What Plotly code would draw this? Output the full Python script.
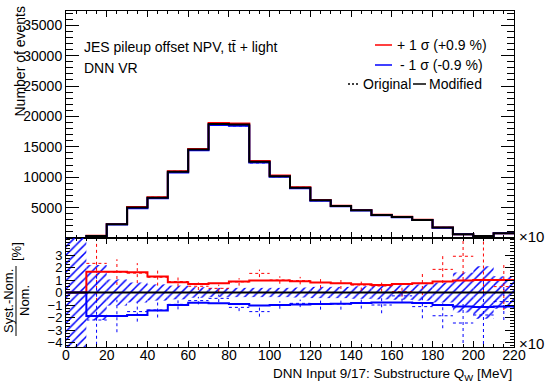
import plotly.graph_objects as go

# ---- binning (DNN input 9/17: substructure Q_W, MeV) ----
bin_edges = list(range(0, 230, 10))

# nominal event yields per bin
nominal = [0, 344, 2260, 5000, 6640, 10900, 14560, 18770, 18660, 12540, 10180,
           8280, 6200, 5260, 4560, 3790, 3460, 2970, 1720, 620, 345, 790]

# relative shifts in % : smoothed ("Modified") variations
up_mod = [0, 1.66, 1.66, 1.61, 1.27, 0.81, 0.68, 0.73, 0.87, 0.95, 0.95,
          0.90, 0.79, 0.73, 0.65, 0.60, 0.68, 0.73, 0.87, 0.95, 1.00, 1.00]
dn_mod = [0, -1.88, -1.88, -1.80, -1.45, -1.00, -0.81, -0.87, -0.92, -1.05, -1.00,
          -0.97, -0.92, -0.90, -0.84, -0.80, -0.80, -0.85, -1.00, -1.13, -1.17, -1.13]

# relative shifts in % : raw ("Original") variations and their errors
up_orig = [None, 2.33, 1.63, 1.55, 1.22, 0.88, 0.50, 0.33, 0.85, 1.53, 1.00,
           0.95, 0.80, 0.73, 0.60, 0.52, 0.06, 0.73, 1.85, 2.90, 4.50, 0.47]
up_orig_err = [0, 3.0, 1.03, 0.80, 0.67, 0.40, 0.30, 0.30, 0.30, 0.30, 0.30,
               0.30, 0.45, 0.45, 0.45, 0.45, 0.40, 0.93, 1.10, 1.90, 4.50, 1.87]
dn_orig = [None, -2.20, -1.88, -1.53, -1.40, -0.95, -0.65, -0.47, -1.19, -1.53, -1.00,
           -0.87, -0.92, -0.92, -0.84, -1.00, -0.27, -1.13, -1.86, -2.44, -1.80, -0.73]
dn_orig_err = [0, 3.9, 1.30, 0.80, 0.60, 0.40, 0.30, 0.30, 0.30, 0.40, 0.30,
               0.30, 0.45, 0.45, 0.45, 0.66, 0.47, 0.93, 1.00, 1.60, 2.80, 1.47]

# statistical uncertainty of the nominal, in %
stat_err = [20, 2.2, 1.05, 0.80, 0.65, 0.55, 0.42, 0.37, 0.37, 0.37, 0.37,
            0.40, 0.45, 0.45, 0.50, 0.55, 0.58, 0.65, 0.80, 1.60, 2.10, 1.30]

y_top_ticks = [0, 5000, 10000, 15000, 20000, 25000, 30000, 35000]
y_top_text = ["", "5000", "10000", "15000", "20000", "25000", "30000", "35000"]
y_rat_ticks = [-4, -3, -2, -1, 0, 1, 2, 3]
y_rat_text = ["\u22124", "\u22123", "\u22122", "\u22121", "0", "1", "2", "3"]
x_ticks = list(range(0, 240, 20))

RED = "#ff0000"
BLUE = "#0000ff"
FONT = "Liberation Sans, Arial, sans-serif"

# canvas geometry (pixels)
W, H = 548, 382
L, R, T, B = 66, 34, 11, 35
split_px = 238
plot_h = H - T - B
split = (H - B - split_px) / plot_h


def px(x):
    return (x - L) / (W - L - R)


def py(y):
    return (H - B - y) / plot_h


def steps(vals):
    return bin_edges, list(vals) + [vals[-1]]


def scaled(pct):
    return [n * (1 + p / 100.0) for n, p in zip(nominal, pct)]


def err_marks(vals, errs):
    xs, ys = [], []
    for i, v in enumerate(vals):
        if v is None:
            continue
        lo, hi = bin_edges[i], bin_edges[i + 1]
        c = 0.5 * (lo + hi)
        xs += [lo, hi, None, c, c, None]
        ys += [v, v, None, v - errs[i], v + errs[i], None]
    return xs, ys


fig = go.Figure()

# ---- upper pad: distributions ----
for pct, col in ((up_orig, RED), (dn_orig, BLUE)):
    vals = scaled([p if p is not None else 0 for p in pct])
    sx, sy = steps(vals)
    fig.add_trace(go.Scatter(x=sx, y=sy, mode="lines", line_shape="hv",
                             line=dict(color=col, width=1, dash="3px,3px"),
                             xaxis="x", yaxis="y", showlegend=False))
for pct, col in ((up_mod, RED), (dn_mod, BLUE)):
    sx, sy = steps(scaled(pct))
    fig.add_trace(go.Scatter(x=sx, y=sy, mode="lines", line_shape="hv",
                             line=dict(color=col, width=2),
                             xaxis="x", yaxis="y", showlegend=False))
sx, sy = steps(nominal)
fig.add_trace(go.Scatter(x=sx, y=sy, mode="lines", line_shape="hv",
                         line=dict(color="black", width=2),
                         xaxis="x", yaxis="y", showlegend=False))

# ---- lower pad: relative differences ----
centers = [0.5 * (bin_edges[i] + bin_edges[i + 1]) for i in range(len(nominal))]
fig.add_trace(go.Bar(x=centers, y=[2 * e for e in stat_err],
                     base=[-e for e in stat_err], width=10,
                     marker=dict(color=BLUE, line=dict(width=0),
                                 pattern=dict(shape="/", fgcolor=BLUE,
                                              bgcolor="rgba(0,0,0,0)",
                                              size=6, solidity=0.25,
                                              fillmode="replace")),
                     xaxis="x2", yaxis="y2", showlegend=False))

for vals, errs, col in ((up_orig, up_orig_err, RED), (dn_orig, dn_orig_err, BLUE)):
    ex, ey = err_marks(vals, errs)
    fig.add_trace(go.Scatter(x=ex, y=ey, mode="lines",
                             line=dict(color=col, width=1, dash="3px,3px"),
                             connectgaps=False,
                             xaxis="x2", yaxis="y2", showlegend=False))
for pct, col in ((up_mod, RED), (dn_mod, BLUE)):
    sx, sy = steps(pct)
    fig.add_trace(go.Scatter(x=sx, y=sy, mode="lines", line_shape="hv",
                             line=dict(color=col, width=2),
                             xaxis="x2", yaxis="y2", showlegend=False))

axis_common = dict(showline=True, linecolor="black", linewidth=1, mirror="ticks",
                   ticks="inside", tickcolor="black", showgrid=False,
                   zeroline=False)
tick_font = dict(family=FONT, size=14, color="black")

fig.update_layout(
    width=W, height=H,
    margin=dict(l=L, r=R, t=T, b=B, pad=0),
    plot_bgcolor="white", paper_bgcolor="white",
    barmode="overlay",
    xaxis=dict(domain=[0, 1], anchor="y", range=[0, 220], matches="x2",
               tickvals=x_ticks, showticklabels=False, ticklen=6, tickfont=tick_font,
               minor=dict(dtick=5, tick0=0, ticklen=3, ticks="inside", tickcolor="black"),
               **axis_common),
    yaxis=dict(domain=[split, 1], anchor="x", range=[0, 37350],
               tickvals=y_top_ticks, ticktext=y_top_text, ticklen=13, tickfont=tick_font,
               minor=dict(dtick=1000, tick0=0, ticklen=7, ticks="inside", tickcolor="black"),
               **axis_common),
    xaxis2=dict(domain=[0, 1], anchor="y2", range=[0, 220],
                tickvals=x_ticks, ticklen=6, ticklabelstandoff=-5, tickfont=tick_font,
                minor=dict(dtick=5, tick0=0, ticklen=3, ticks="inside", tickcolor="black"),
                **axis_common),
    yaxis2=dict(domain=[0, split], anchor="x2", range=[-4.36, 4.36],
                tickvals=y_rat_ticks, ticktext=y_rat_text, ticklen=9,
                tickfont=dict(family=FONT, size=13, color="black"),
                minor=dict(dtick=0.25, tick0=0, ticklen=4, ticks="inside", tickcolor="black"),
                **axis_common),
)

shapes = [
    # reference line at zero in the ratio pad
    dict(type="line", xref="paper", yref="y2", x0=0, x1=1, y0=0, y1=0,
         line=dict(color="black", width=2), layer="above"),
    # legend keys
    dict(type="line", xref="paper", yref="paper", x0=px(375), x1=px(392),
         y0=py(45), y1=py(45), line=dict(color=RED, width=1.5)),
    dict(type="line", xref="paper", yref="paper", x0=px(375), x1=px(392),
         y0=py(65), y1=py(65), line=dict(color=BLUE, width=1.5)),
    dict(type="line", xref="paper", yref="paper", x0=px(348), x1=px(359),
         y0=py(84), y1=py(84), line=dict(color="black", width=1.5, dash="2px,2px")),
    dict(type="line", xref="paper", yref="paper", x0=px(413), x1=px(426),
         y0=py(84), y1=py(84), line=dict(color="black", width=1.5)),
    # fraction bar of the ratio-axis title
    dict(type="line", xref="paper", yref="paper", x0=px(16), x1=px(16),
         y0=py(266), y1=py(336), line=dict(color="black", width=1)),
]
fig.update_layout(shapes=shapes)


def txt(text, x, y, xanchor="left", yanchor="middle", size=14, angle=0):
    return dict(text=text, x=px(x), y=py(y), xref="paper", yref="paper",
                xanchor=xanchor, yanchor=yanchor, showarrow=False, textangle=angle,
                font=dict(family=FONT, size=size, color="black"))


annotations = [
    txt("JES pileup offset NPV, tt\u0304 + light", 82, 47),
    txt("DNN VR", 82, 68),
    txt("+ 1 \u03c3 (+0.9 %)", 395, 45),
    txt("- 1 \u03c3 (-0.9 %)", 398, 65),
    txt("Original", 361, 84),
    txt("Modified", 427, 84),
    txt("Number of events", 19, 4, xanchor="center", yanchor="top", angle=-90),
    txt("Syst.-Nom.", 8, 301, xanchor="center", angle=-90, size=13),
    txt("Nom.", 24, 301, xanchor="center", angle=-90, size=13),
    txt("[%]", 16, 252, xanchor="center", angle=-90, size=13),
    txt("DNN Input 9/17: Substructure Q<sub>W</sub> [MeV]", 514, 364,
        xanchor="right", yanchor="top", size=13.5),
    txt("\u00d710", 517, 236, size=15),
    txt("\u00d710", 517, 343, size=15),
]
fig.update_layout(annotations=annotations)

fig.write_html("out.html")
